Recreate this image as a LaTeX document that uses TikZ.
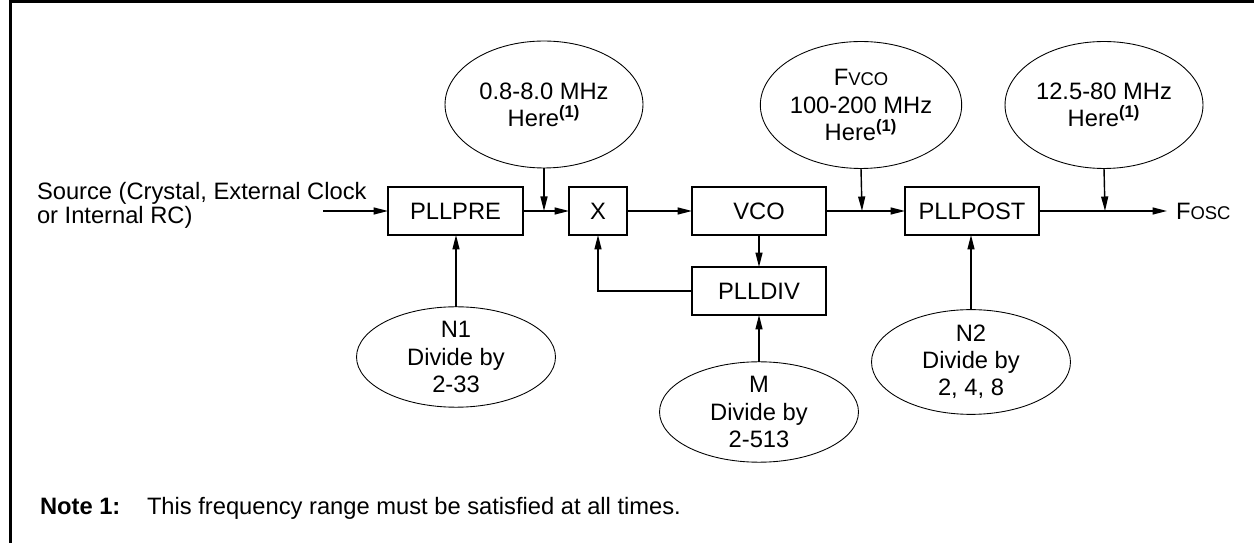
\documentclass[tikz,border=0pt]{standalone}
\usepackage{fontspec}
\setmainfont{Liberation Sans}
\usetikzlibrary{arrows.meta,shapes.geometric}
\begin{document}
\begin{tikzpicture}[x=0.02cm,y=-0.02cm,
  every node/.style={font=\fontsize{13.5}{15.5}\selectfont},
  blk/.style={draw,line width=0.85pt,minimum height=0.96cm,inner sep=0,outer sep=0},
  ellbig/.style={draw,ellipse,line width=0.5pt,inner sep=0,outer sep=0,align=center,minimum width=3.96cm,minimum height=2.54cm},
  ellsmall/.style={draw,ellipse,line width=0.5pt,inner sep=0,outer sep=0,align=center,minimum width=3.98cm,minimum height=2.0cm},
  arr/.style={line width=0.8pt,-{Triangle[length=2.9mm,width=1.4mm]}},
  lbl/.style={inner sep=0,outer sep=0}]
\useasboundingbox (0,0) rectangle (1254,543);
\draw[line width=1.7pt] (10.5,543) -- (10.5,1.5) -- (1254,1.5);

% blocks
\node[blk,minimum width=2.7cm] (pre) at (455.5,211) {PLLPRE};
\node[blk,minimum width=1.16cm] (x) at (598,211) {X};
\node[blk,minimum width=2.68cm] (vco) at (759,211) {VCO};
\node[blk,minimum width=2.68cm] (div) at (759,291) {PLLDIV};
\node[blk,minimum width=2.68cm] (post) at (972,211) {PLLPOST};

% ellipses
\node[ellbig] (f1) at (544,104.5) {0.8-8.0 MHz\\Here\textsuperscript{\textbf{(1)}}};
\node[ellbig] (f2) at (861,105) {F{\fontsize{10.5}{12}\selectfont VCO}\\100-200 MHz\\Here\textsuperscript{\textbf{(1)}}};
\node[ellbig] (f3) at (1104,105) {12.5-80 MHz\\Here\textsuperscript{\textbf{(1)}}};
\node[ellsmall] (n1) at (456,357) {N1\\Divide by\\2-33};
\node[ellsmall] (m) at (759,412) {M\\Divide by\\2-513};
\node[ellsmall] (n2) at (971,362) {N2\\Divide by\\2, 4, 8};

% labels
\node[lbl,anchor=west,align=left,font=\fontsize{13.5}{12}\selectfont] (src) at (37,205) {Source (Crystal, External Clock\\or Internal RC)};
\node[lbl,anchor=west] (fosc) at (1176,211) {F{\fontsize{10.5}{12}\selectfont OSC}};
\node[lbl,anchor=base west] (note) at (40,515) {\textbf{Note 1:}};
\node[lbl,anchor=base west] (notetxt) at (147,515) {This frequency range must be satisfied at all times.};

% coordinates
\coordinate (srcend) at (323,211);
\coordinate (foscin) at (1167,211);
\coordinate (j1) at (544,211);
\coordinate (j2) at (862,211);
\coordinate (j3) at (1105,211);

% connectors
\draw[arr] (srcend) -- (pre.west);
\draw[arr] (pre.east) -- (x.west);
\draw[arr] (x.east) -- (vco.west);
\draw[arr] (vco.east) -- (post.west);
\draw[arr] (post.east) -- (foscin);
\draw[arr] (f1.south) -- (j1);
\draw[arr] (f2.south) -- (j2);
\draw[arr] (f3.south) -- (j3);
\draw[arr] (vco.south) -- (div.north);
\draw[arr] (div.west) -| (x.south);
\draw[arr] (n1.north) -- (n1.north |- pre.south);
\draw[arr] (m.north) -- (div.south);
\draw[arr] (n2.north) -- (n2.north |- post.south);
\end{tikzpicture}
\end{document}
